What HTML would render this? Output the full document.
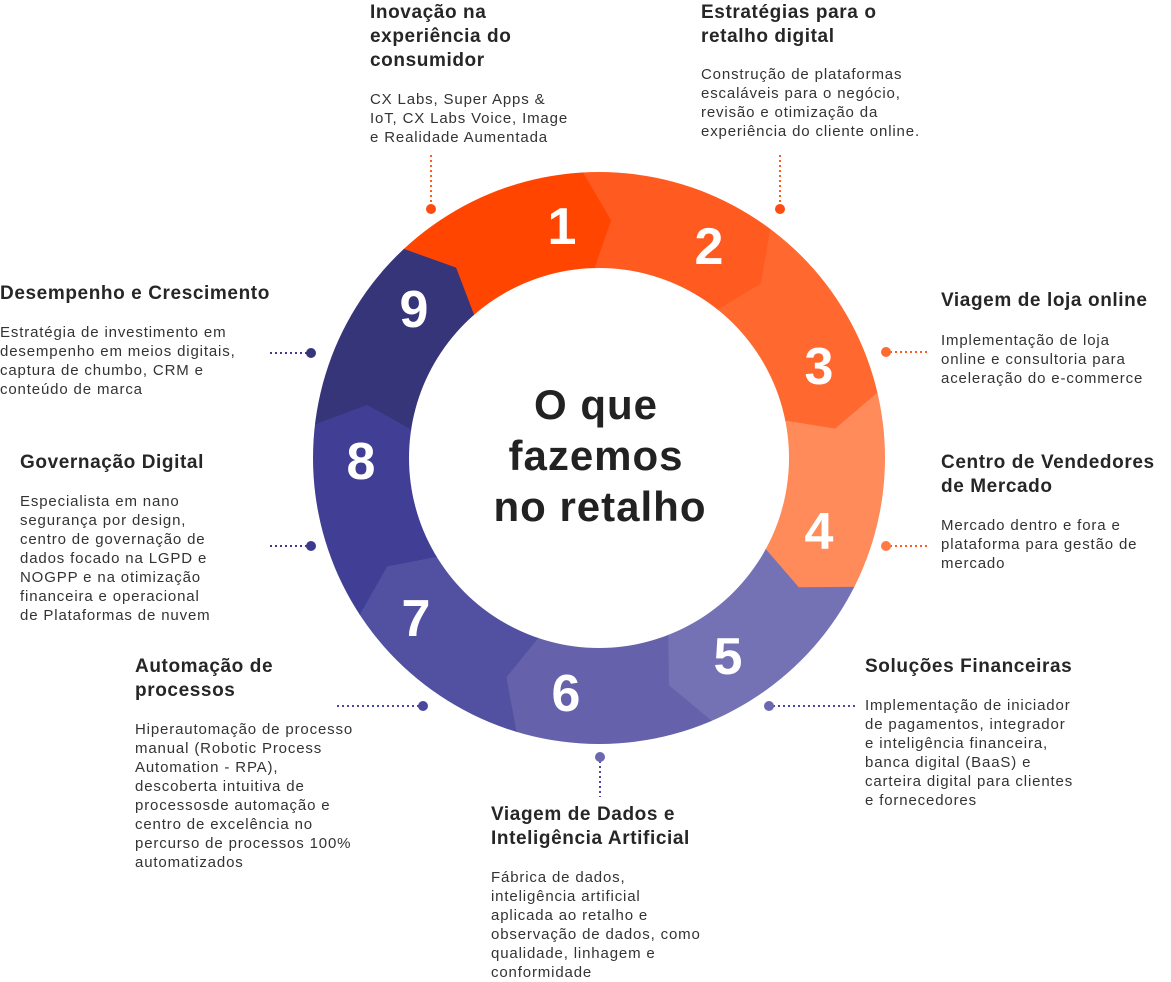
<!DOCTYPE html>
<html><head><meta charset="utf-8"><style>
html,body{margin:0;padding:0;background:#fff}
body{width:1171px;height:980px;position:relative;overflow:hidden;font-family:"Liberation Sans",sans-serif;color:#2b2b2b}
.h{position:absolute;font-weight:bold;font-size:19px;letter-spacing:0.6px;line-height:24px;color:#262626;white-space:nowrap}
.b{position:absolute;font-size:15px;letter-spacing:0.85px;line-height:19px;color:#333;white-space:nowrap}
svg{position:absolute;left:0;top:0}
</style></head><body>
<svg width="1171" height="980" viewBox="0 0 1171 980">
<defs><clipPath id="ring"><path fill-rule="evenodd" clip-rule="evenodd" d="M599,172a286,286 0 1,0 0.01,0ZM599,268a190,190 0 1,0 0.01,0Z"/></clipPath></defs>
<g clip-path="url(#ring)" id="segs"></g>
<g font-family="Liberation Sans" font-weight="bold" font-size="52" fill="#fff" text-anchor="middle">
<text x="562" y="244">1</text><text x="709" y="264">2</text><text x="819" y="384">3</text>
<text x="819" y="549">4</text><text x="728" y="674">5</text><text x="566" y="711">6</text>
<text x="416" y="636">7</text><text x="361" y="479">8</text><text x="414" y="327">9</text>
</g>
<g font-family="Liberation Sans" font-weight="bold" font-size="42" fill="#222" text-anchor="middle" letter-spacing="1">
<text x="596" y="419">O que</text><text x="596" y="470">fazemos</text><text x="600" y="521">no retalho</text>
</g>
<g stroke-width="2" stroke-dasharray="2,3" fill="none">
<line x1="431" y1="155" x2="431" y2="205" stroke="#ff5a1f"/>
<line x1="780" y1="155" x2="780" y2="205" stroke="#ff5a1f"/>
<line x1="890" y1="352" x2="930" y2="352" stroke="#ff5a1f"/>
<line x1="890" y1="546" x2="930" y2="546" stroke="#ff5a1f"/>
<line x1="773" y1="706" x2="855" y2="706" stroke="#4a47a0"/>
<line x1="600" y1="761" x2="600" y2="797" stroke="#4a47a0"/>
<line x1="337" y1="706" x2="419" y2="706" stroke="#4a47a0"/>
<line x1="270" y1="546" x2="307" y2="546" stroke="#3d3a8e"/>
<line x1="270" y1="353" x2="307" y2="353" stroke="#3d3a8e"/>
</g>
<g>
<circle cx="431" cy="209" r="5" fill="#ff4a10"/><circle cx="780" cy="209" r="5" fill="#ff4a10"/>
<circle cx="886" cy="352" r="5" fill="#ff6a30"/><circle cx="886" cy="546" r="5" fill="#ff7a45"/>
<circle cx="769" cy="706" r="5" fill="#6b68b0"/><circle cx="600" cy="757" r="5" fill="#6b68b0"/>
<circle cx="423" cy="706" r="5" fill="#4a47a0"/><circle cx="311" cy="546" r="5" fill="#3d3a8e"/>
<circle cx="311" cy="353" r="5" fill="#36347a"/>
</g>
</svg>
<script>
(function(){
var cx=599,cy=458,cols=["#ff4500","#ff5a1f","#ff6930","#ff8a5a","#7472b4","#6561aa","#5250a1","#403e95","#36357a"];
var g=document.getElementById("segs"),ns="http://www.w3.org/2000/svg";
function p(a,r){a=a*Math.PI/180;return (cx+r*Math.cos(a)).toFixed(1)+","+(cy+r*Math.sin(a)).toFixed(1);}
for(var k=0;k<9;k++){
 var a0=-137+40*k,a1=a0+40,t=10;
 var poly=document.createElementNS(ns,"polygon");
 var arr=[p(a0,330),p(a0+t,238),p(a0,150),p(a1,150),p(a1+t,238),p(a1,330),p(a1-13,330),p(a1-27,330)];
 poly.setAttribute("points",arr.join(" "));
 poly.setAttribute("fill",cols[k]);poly.setAttribute("stroke",cols[k]);poly.setAttribute("stroke-width","0.8");
 g.appendChild(poly);
}
})();
</script>

<div class="h" style="left:370px;top:1px">Inovação na<br>experiência do<br>consumidor</div>
<div class="b" style="left:370px;top:90px">CX Labs, Super Apps &amp;<br>IoT, CX Labs Voice, Image<br>e Realidade Aumentada</div>

<div class="h" style="left:701px;top:1px">Estratégias para o<br>retalho digital</div>
<div class="b" style="left:701px;top:65px">Construção de plataformas<br>escaláveis para o negócio,<br>revisão e otimização da<br>experiência do cliente online.</div>

<div class="h" style="left:941px;top:289px">Viagem de loja online</div>
<div class="b" style="left:941px;top:331px">Implementação de loja<br>online e consultoria para<br>aceleração do e-commerce</div>

<div class="h" style="left:941px;top:451px">Centro de Vendedores<br>de Mercado</div>
<div class="b" style="left:941px;top:516px">Mercado dentro e fora e<br>plataforma para gestão de<br>mercado</div>

<div class="h" style="left:865px;top:655px">Soluções Financeiras</div>
<div class="b" style="left:865px;top:696px">Implementação de iniciador<br>de pagamentos, integrador<br>e inteligência financeira,<br>banca digital (BaaS) e<br>carteira digital para clientes<br>e fornecedores</div>

<div class="h" style="left:491px;top:803px">Viagem de Dados e<br>Inteligência Artificial</div>
<div class="b" style="left:491px;top:868px">Fábrica de dados,<br>inteligência artificial<br>aplicada ao retalho e<br>observação de dados, como<br>qualidade, linhagem e<br>conformidade</div>

<div class="h" style="left:135px;top:655px">Automação de<br>processos</div>
<div class="b" style="left:135px;top:720px">Hiperautomação de processo<br>manual (Robotic Process<br>Automation - RPA),<br>descoberta intuitiva de<br>processosde automação e<br>centro de excelência no<br>percurso de processos 100%<br>automatizados</div>

<div class="h" style="left:20px;top:451px">Governação Digital</div>
<div class="b" style="left:20px;top:492px">Especialista em nano<br>segurança por design,<br>centro de governação de<br>dados focado na LGPD e<br>NOGPP e na otimização<br>financeira e operacional<br>de Plataformas de nuvem</div>

<div class="h" style="left:0px;top:282px">Desempenho e Crescimento</div>
<div class="b" style="left:0px;top:323px">Estratégia de investimento em<br>desempenho em meios digitais,<br>captura de chumbo, CRM e<br>conteúdo de marca</div>
</body></html>
